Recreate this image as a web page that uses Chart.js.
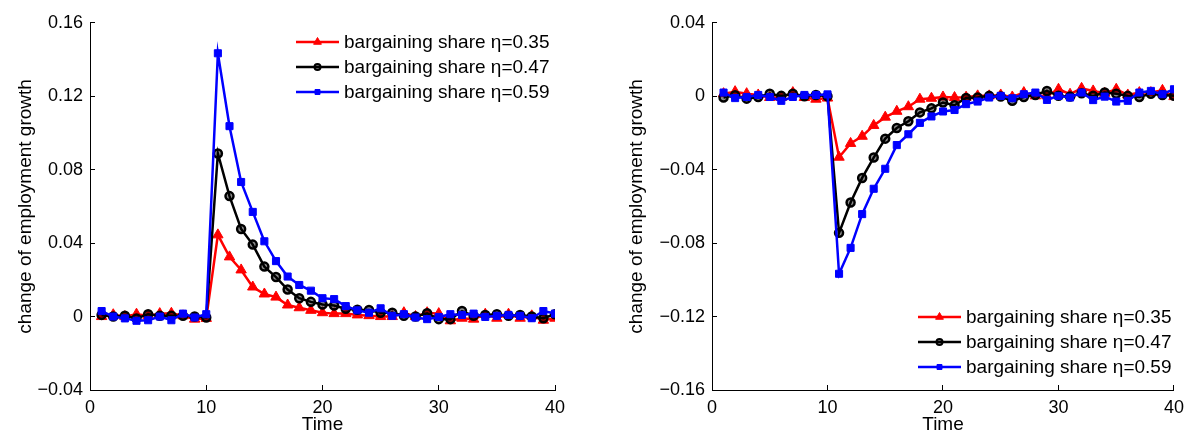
<!DOCTYPE html>
<html>
<head>
<meta charset="utf-8">
<script src="https://cdn.jsdelivr.net/npm/chart.js@4.4.0/dist/chart.umd.min.js"></script>
<style>
  html, body { margin: 0; padding: 0; background: #fff; }
  #wrap { position: relative; width: 1196px; height: 434px; }
  #leftChart { position: absolute; left: 0; top: 0; }
  #rightChart { position: absolute; left: 600px; top: 0; }
</style>
</head>
<body>
<div id="wrap">
  <canvas id="leftChart" width="600" height="434"></canvas>
  <canvas id="rightChart" width="596" height="434"></canvas>
</div>
<script>
// time periods
const time = [1, 2, 3, 4, 5, 6, 7, 8, 9, 10, 11, 12, 13, 14, 15, 16, 17, 18, 19, 20,
  21, 22, 23, 24, 25, 26, 27, 28, 29, 30, 31, 32, 33, 34, 35, 36, 37, 38, 39, 40];

const seriesNames = ['bargaining share \u03b7=0.35', 'bargaining share \u03b7=0.47', 'bargaining share \u03b7=0.59'];

// left panel: positive shock
const red35Left = [0, 0.001, 0, 0.0013, 0.0004, 0.0016, 0.0018, 0.0004, -0.0014, -0.001,
  0.0445, 0.0325, 0.0254, 0.0161, 0.0123, 0.0106, 0.0063, 0.0048, 0.0034, 0.0021,
  0.0016, 0.0016, 0.0009, 0.0005, 0, 0, 0.0021, 0, 0.0021, 0.0016,
  -0.0023, -0.0009, -0.0014, 0.0013, -0.0009, 0.0013, -0.0009, 0.0004, -0.002, -0.0009];
const black47Left = [0.0009, 0, 0.0004, -0.001, 0.0013, 0.0004, 0.0004, 0.0004, 0, -0.0005,
  0.0888, 0.0656, 0.0477, 0.0392, 0.0272, 0.0215, 0.0147, 0.0100, 0.0080, 0.0066,
  0.0060, 0.0042, 0.0037, 0.0036, 0.0021, 0.0021, 0.0004, 0, 0.0018, -0.0014,
  -0.0014, 0.003, 0.0004, 0.0009, 0.0013, 0.0004, 0.0009, 0, -0.0009, 0.0013];
const blue59Left = [0.003, 0, -0.001, -0.0023, -0.002, 0, -0.002, 0.0016, -0.0005, 0.0013,
  0.1434, 0.1037, 0.0733, 0.057, 0.041, 0.0302, 0.0218, 0.0172, 0.0141, 0.0100,
  0.0095, 0.0057, 0.0034, 0.0021, 0.0045, 0.0004, 0.0013, -0.0005, -0.0014, -0.0002,
  0.0013, 0.0009, 0.0016, -0.0002, 0.0004, 0.0009, 0.0004, -0.0009, 0.003, 0.0016];

// right panel: negative shock
const red35Right = [0.0014, 0.0025, 0.0014, 0.0007, -0.0007, -0.0007, 0.002, -0.0007, -0.0016, -0.001,
  -0.0332, -0.0257, -0.0218, -0.0159, -0.0114, -0.0082, -0.0057, -0.0016, -0.0011, -0.0004,
  -0.0007, -0.0005, 0.0002, 0.0002, 0.0007, -0.0004, 0.002, 0.0002, 0.0002, 0.0038,
  0.0011, 0.0043, 0.0029, 0.0016, 0.0038, 0.0007, 0.002, 0.002, 0.0032, -0.0002];
const black47Right = [-0.0007, 0.0005, -0.0013, -0.0004, 0.0014, 0.0002, 0.0014, 0, 0.0007, 0,
  -0.0744, -0.0579, -0.0445, -0.0334, -0.0231, -0.0173, -0.0136, -0.0088, -0.0066, -0.0034,
  -0.0049, -0.0009, -0.0007, 0.0002, -0.0002, -0.0025, -0.0004, 0.0007, 0.0029, 0.0002,
  -0.0002, 0.0016, 0.0002, 0.002, 0.0014, 0.0002, -0.0004, 0.0014, 0.0007, 0.0002];
const blue59Right = [0.002, -0.001, -0.0004, 0.0007, -0.0004, -0.0025, -0.0004, 0.0007, 0.0007, 0.001,
  -0.0967, -0.0826, -0.0642, -0.0504, -0.0395, -0.0266, -0.0207, -0.0145, -0.011, -0.0083,
  -0.0075, -0.0043, -0.0029, -0.0007, 0.0002, -0.0011, 0.0011, 0.002, -0.002, 0.0002,
  -0.0007, 0.002, -0.0021, -0.0002, -0.0029, -0.0025, 0.002, 0.0029, 0.0011, 0.0038];

const FONT = "'Liberation Sans', Arial, Helvetica, sans-serif";

// MATLAB-like legend drawn inside the plot
const boxLegend = {
  id: 'boxLegend',
  afterDatasetsDraw(chart, args, opts) {
    const ctx = chart.ctx;
    ctx.save();
    chart.data.datasets.forEach((ds, i) => {
      const y = opts.y + i * opts.gap;
      ctx.strokeStyle = ds.borderColor;
      ctx.lineWidth = 2.5;
      ctx.beginPath();
      ctx.moveTo(opts.x, y);
      ctx.lineTo(opts.x + 43, y);
      ctx.stroke();
      ctx.fillStyle = ds.pointBackgroundColor;
      ctx.strokeStyle = ds.pointBorderColor;
      ctx.lineWidth = ds.legendMarker.borderWidth;
      Chart.helpers.drawPoint(ctx, {
        pointStyle: ds.pointStyle,
        radius: ds.legendMarker.radius,
        rotation: 0,
        borderWidth: ds.legendMarker.borderWidth
      }, opts.x + 21.5, y);
      ctx.fillStyle = '#000';
      ctx.font = '19px ' + FONT;
      ctx.textAlign = 'left';
      ctx.textBaseline = 'middle';
      ctx.fillText(ds.label, opts.x + 48, y + 1);
    });
    ctx.restore();
  }
};

function makeDatasets(red, black, blue) {
  return [
    {
      label: seriesNames[0],
      data: time.map((t, i) => ({ x: t, y: red[i] })),
      borderColor: '#ff0000',
      pointBackgroundColor: '#ff0000',
      pointBorderColor: '#ff0000',
      pointStyle: 'triangle',
      pointRadius: 6,
      pointBorderWidth: 1,
      legendMarker: { radius: 4.5, borderWidth: 1 },
      order: 2
    },
    {
      label: seriesNames[1],
      data: time.map((t, i) => ({ x: t, y: black[i] })),
      borderColor: '#000000',
      pointBackgroundColor: 'rgba(0,0,0,0.45)',
      pointBorderColor: '#000000',
      pointStyle: 'circle',
      pointRadius: 4,
      pointBorderWidth: 2.5,
      legendMarker: { radius: 3, borderWidth: 2 },
      order: 1
    },
    {
      label: seriesNames[2],
      data: time.map((t, i) => ({ x: t, y: blue[i] })),
      borderColor: '#0000ff',
      pointBackgroundColor: '#0000ff',
      pointBorderColor: '#0000ff',
      pointStyle: 'rect',
      pointRadius: 5,
      pointBorderWidth: 1,
      legendMarker: { radius: 3.5, borderWidth: 1 },
      order: 0
    }
  ];
}

function tickLabel(v) {
  if (Math.abs(v) < 1e-9) return '0';
  return (v < 0 ? '\u2212' : '') + Math.abs(v).toFixed(2);
}

function createPanel(id, datasets, yMin, yMax, yAxisWidth, titlePad, padRight, legendPos) {
  const ctx = document.getElementById(id).getContext('2d');
  return new Chart(ctx, {
    type: 'line',
    data: { datasets: datasets },
    plugins: [boxLegend],
    options: {
      responsive: false,
      animation: false,
      devicePixelRatio: 1,
      layout: { padding: { top: 17, right: padRight, bottom: 0, left: 0 } },
      elements: { line: { borderWidth: 2.5, tension: 0 } },
      plugins: {
        legend: { display: false },
        tooltip: { enabled: false },
        boxLegend: legendPos
      },
      scales: {
        x: {
          type: 'linear',
          min: 0,
          max: 40,
          afterFit: s => { s.height = 44; },
          border: { display: true, color: '#000', width: 1 },
          grid: { drawOnChartArea: false, color: '#000', tickLength: -5 },
          ticks: { stepSize: 10, color: '#000', padding: 12, maxRotation: 0, font: { family: FONT, size: 18 } },
          title: { display: true, text: 'Time', color: '#000', padding: { top: 0, bottom: 0 }, font: { family: FONT, size: 19, lineHeight: 1 } }
        },
        y: {
          min: yMin,
          max: yMax,
          afterFit: s => { s.width = yAxisWidth; },
          border: { display: true, color: '#000', width: 1 },
          grid: { drawOnChartArea: false, color: '#000', tickLength: -5 },
          ticks: { stepSize: 0.04, color: '#000', padding: 12, callback: tickLabel, font: { family: FONT, size: 18 } },
          title: { display: true, text: 'change of employment growth', color: '#000', padding: { top: titlePad, bottom: 0 }, font: { family: FONT, size: 19, lineHeight: 1.2 } }
        }
      }
    }
  });
}

createPanel('leftChart', makeDatasets(red35Left, black47Left, blue59Left), -0.04, 0.16, 90, 14, 45, { x: 296, y: 42, gap: 25 });
createPanel('rightChart', makeDatasets(red35Right, black47Right, blue59Right), -0.16, 0.04, 112, 25, 13, { x: 318, y: 317, gap: 25 });
</script>
</body>
</html>
